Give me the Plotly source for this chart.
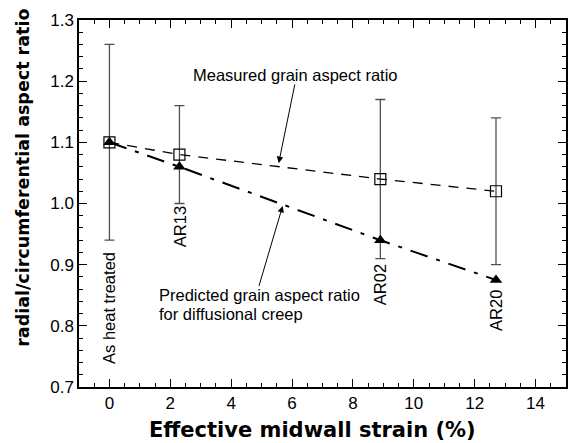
import plotly.graph_objects as go

strain = [0, 2.3, 8.9, 12.7]
measured = [1.10, 1.08, 1.04, 1.02]
measured_err = [0.16, 0.08, 0.13, 0.12]
predicted = [1.10, 1.06, 0.94, 0.875]
labels = ["As heat treated", "AR13", "AR02", "AR20"]
label_y = [0.83, 0.962, 0.867, 0.826]

fig = go.Figure()
fig.add_trace(go.Scatter(
    x=strain, y=measured, mode="lines+markers",
    line=dict(color="black", width=1.3, dash="10px,8px"),
    marker=dict(symbol="square-open", size=11, color="black", line=dict(width=1.2)),
    error_y=dict(type="data", array=measured_err, color="#505050", thickness=1.3, width=5),
    showlegend=False))
fig.add_trace(go.Scatter(
    x=strain, y=predicted, mode="lines+markers",
    line=dict(color="black", width=2, dash="18px,9px,4px,9px"),
    marker=dict(symbol="triangle-up", size=11, color="black"),
    showlegend=False))

afont = dict(family="Liberation Sans, Arial", size=16.5, color="black")
for xs, lab, ly in zip(strain, labels, label_y):
    fig.add_annotation(x=xs, y=ly, text=lab, textangle=-90, showarrow=False, font=afont)

fig.add_annotation(x=6.12, y=1.21, text="Measured grain aspect ratio", showarrow=False, font=afont)
fig.add_annotation(x=5.56, y=1.066, ax=6.1, ay=1.197, axref="x", ayref="y", text="",
                   showarrow=True, arrowhead=2, arrowsize=1.3, arrowwidth=1, arrowcolor="black")
fig.add_annotation(x=1.55, y=0.851, text="Predicted grain aspect ratio",
                   showarrow=False, xanchor="left", font=afont)
fig.add_annotation(x=1.55, y=0.820, text="for diffusional creep",
                   showarrow=False, xanchor="left", font=afont)
fig.add_annotation(x=5.69, y=0.996, ax=4.9, ay=0.863, axref="x", ayref="y", text="",
                   showarrow=True, arrowhead=2, arrowsize=1.3, arrowwidth=1, arrowcolor="black")

fig.add_annotation(xref="paper", yref="paper", x=0.479, y=-0.117, yanchor="middle",
                   text="<b>Effective midwall strain (%)</b>", showarrow=False,
                   font=dict(family="DejaVu Sans", size=21, color="black"))
fig.add_annotation(xref="paper", yref="paper", x=-0.115, y=0.57, xanchor="center", yanchor="middle",
                   textangle=-90, text="<b>radial/circumferential aspect ratio</b>", showarrow=False,
                   font=dict(family="DejaVu Sans", size=17.5, color="black"))

axis_common = dict(showgrid=False, zeroline=False, showline=True, linecolor="black", linewidth=1.5,
                   mirror="ticks", ticks="inside", tickcolor="black", tickwidth=1.2, ticklen=8,
                   tickfont=dict(family="Liberation Sans, Arial", size=17, color="black"))
fig.update_xaxes(range=[-1, 15], dtick=2, tick0=0,
                 minor=dict(dtick=0.5, ticks="inside", ticklen=4, tickcolor="black", tickwidth=1),
                 **axis_common)
fig.update_yaxes(range=[0.7, 1.3], dtick=0.1, tick0=0.7, tickformat=".1f",
                 minor=dict(dtick=0.02, ticks="inside", ticklen=4, tickcolor="black", tickwidth=1),
                 **axis_common)
fig.update_layout(width=570, height=443, margin=dict(l=79, r=2, t=20, b=56),
                  plot_bgcolor="white", paper_bgcolor="white")
fig.write_html("out.html", config={"displayModeBar": False},
               post_script="document.body.style.margin='0';")
